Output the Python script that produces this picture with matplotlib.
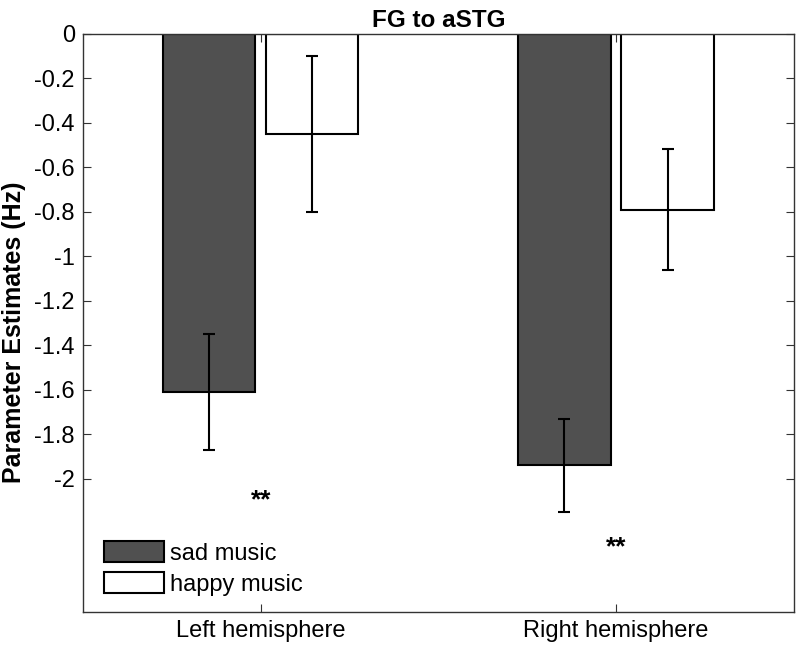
import numpy as np
import matplotlib
matplotlib.use("Agg")
import matplotlib.pyplot as plt

groups = ["Left hemisphere", "Right hemisphere"]
sad_mean = [-1.61, -1.94]
sad_err = [0.26, 0.21]
happy_mean = [-0.45, -0.79]
happy_err = [0.35, 0.27]
star_y = [-2.10, -2.31]
yticks = [0, -0.2, -0.4, -0.6, -0.8, -1, -1.2, -1.4, -1.6, -1.8, -2]

plt.rcParams["font.family"] = ["Liberation Sans", "DejaVu Sans"]

fig = plt.figure(figsize=(8, 6.51), dpi=100)
ax = fig.add_axes([0.104, 0.060, 0.888, 0.888])

x = np.arange(1, len(groups) + 1)
w = 0.26
off = 0.145

ax.bar(x - off, sad_mean, w, color="#505050", edgecolor="black", linewidth=1.5,
       label="sad music", zorder=2)
ax.bar(x + off, happy_mean, w, color="white", edgecolor="black", linewidth=1.5,
       label="happy music", zorder=2)
ax.errorbar(x - off, sad_mean, yerr=sad_err, fmt="none", ecolor="black",
            elinewidth=1.5, capsize=4, capthick=1.5, zorder=3)
ax.errorbar(x + off, happy_mean, yerr=happy_err, fmt="none", ecolor="black",
            elinewidth=1.5, capsize=4, capthick=1.5, zorder=3)

# significance stars
for xi, sy in zip(x, star_y):
    ax.text(xi, sy, "**", ha="center", va="center", fontsize=19, fontweight="bold")

ax.set_xlim(0.5, 2.5)
ax.set_ylim(-2.6, 0)
ax.set_xticks(x)
ax.set_xticklabels(groups, fontsize=17)
ax.set_yticks(yticks)
ax.set_yticklabels([f"{t:g}" for t in yticks], fontsize=17)
ax.tick_params(direction="in", top=True, right=True, length=6, width=0.8,
               color="#333333", pad=6)
for s in ax.spines.values():
    s.set_color("#333333")
    s.set_linewidth(1.0)

ax.set_ylabel("Parameter Estimates (Hz)", fontsize=18, fontweight="bold")
ax.yaxis.set_label_coords(-0.08, 0.483)
ax.set_title("FG to aSTG", fontsize=17.5, fontweight="bold", pad=5)

ax.legend(loc="lower left", frameon=False, fontsize=17, handlelength=2.55,
          handleheight=1.0, handletextpad=0.25, labelspacing=0.3,
          borderaxespad=0, borderpad=0, bbox_to_anchor=(0.029, 0.028))

fig.savefig("out.png", dpi=100)
